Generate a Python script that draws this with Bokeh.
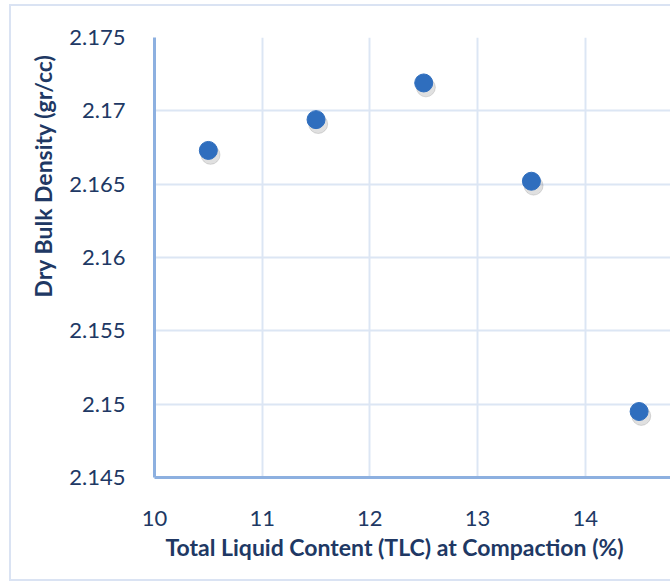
from bokeh.plotting import figure
from bokeh.embed import file_html
from bokeh.resources import INLINE
from bokeh.models import Title, FixedTicker, ColumnDataSource, Range1d
from bokeh.transform import dodge

# Data
tlc = [10.5, 11.5, 12.5, 13.5, 14.5]
density = [2.1673, 2.1694, 2.1719, 2.1652, 2.1495]
x_ticks = [10, 11, 12, 13, 14, 15]
y_ticks = [2.145, 2.15, 2.155, 2.16, 2.165, 2.17, 2.175]
y_tick_labels = ["2.145", "2.15", "2.155", "2.16", "2.165", "2.17", "2.175"]
x_title = "Total Liquid Content (TLC) at Compaction (%)"
y_title = "Dry Bulk Density  (gr/cc)"

FONT = "Lato"
TEXT = "#203864"
AXIS = "#8DB0E0"
GRID = "#DCE6F4"
PT = "#2F6EBE"

src = ColumnDataSource(dict(x=tlc, y=density))

p = figure(width=661, height=577, output_backend="svg", toolbar_location=None,
           x_range=Range1d(10, 14.81), y_range=Range1d(2.145, 2.175),
           min_border_left=143, min_border_right=0, min_border_top=31, min_border_bottom=106,
           background_fill_color="white", border_fill_color="white")
p.outline_line_color = None
p.styles = {"margin-left": "9px", "margin-top": "4px",
            "border-left": "2px solid #DAE3F3", "border-top": "2px solid #DAE3F3",
            "border-bottom": "2px solid #DAE3F3"}

p.xaxis.ticker = FixedTicker(ticks=x_ticks)
p.yaxis.ticker = FixedTicker(ticks=y_ticks)
p.yaxis.major_label_overrides = {t: l for t, l in zip(y_ticks, y_tick_labels)}

for ax in (p.xaxis[0], p.yaxis[0]):
    ax.axis_line_color = AXIS
    ax.axis_line_width = 3
    ax.major_tick_line_color = None
    ax.minor_tick_line_color = None
    ax.major_label_text_font = FONT
    ax.major_label_text_font_size = "22px"
    ax.major_label_text_color = TEXT
p.xaxis.major_label_standoff = 27
p.yaxis.major_label_standoff = 23

p.xgrid.grid_line_color = GRID
p.ygrid.grid_line_color = GRID
p.xgrid.grid_line_width = 2
p.ygrid.grid_line_width = 2

# shadow
p.scatter(x=dodge("x", 0.02, range=p.x_range), y=dodge("y", -0.0003, range=p.y_range),
          source=src, size=19, color="#555555", alpha=0.18)
p.scatter(x="x", y="y", source=src, size=18, color=PT, line_color=PT)

p.add_layout(Title(text=x_title, align="left", offset=11, standoff=5,
                   text_font=FONT, text_font_size="23px", text_font_style="bold",
                   text_color=TEXT), "below")
p.add_layout(Title(text=y_title, align="left", offset=180, standoff=20,
                   text_font=FONT, text_font_size="23px", text_font_style="bold",
                   text_color=TEXT), "left")

open("out.html", "w").write(file_html(p, INLINE))
